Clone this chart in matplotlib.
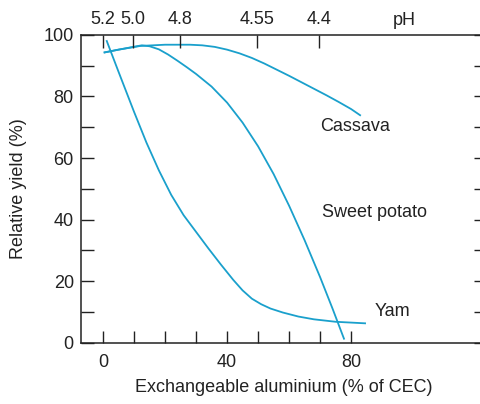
"""Relative yield of root crops vs exchangeable aluminium."""
import matplotlib
matplotlib.use("Agg")
import matplotlib.pyplot as plt
import matplotlib.transforms as mtransforms

plt.rcParams["font.family"] = ["Liberation Sans", "DejaVu Sans"]

# Curves
cassava_x = [0.5, 5, 12, 20, 28, 32, 36, 40, 44, 48, 52, 56, 60, 64, 68, 72, 76, 80, 82.9]
cassava_y = [94.3, 95.2, 96.4, 96.8, 96.8, 96.6, 96.1, 95.2, 94.0, 92.5, 90.7, 88.7, 86.7,
             84.6, 82.5, 80.4, 78.2, 75.9, 73.9]

sweet_x = [0.5, 5, 12.5, 15, 18, 21, 24, 27, 30, 35, 40, 45, 50, 55, 60, 65, 70, 74, 77.7]
sweet_y = [94.3, 95.2, 96.6, 96.3, 95.3, 93.6, 91.6, 89.5, 87.3, 83.2, 78.0, 71.5, 63.8,
           54.8, 44.5, 33.3, 21.3, 11.1, 1.3]

yam_x = [1.2, 5, 10, 14, 18, 22, 26, 30, 34, 38, 42, 45, 48, 51, 54, 58, 63, 68, 75, 84.5]
yam_y = [98.0, 88.0, 75.0, 65.0, 56.0, 48.0, 41.4, 36.0, 30.6, 25.4, 20.4, 17.0, 14.3,
         12.5, 11.1, 9.8, 8.5, 7.6, 6.8, 6.3]

ph_pos = [0, 9.7, 24.8, 49.7, 69.7]
ph_labels = ["5.2", "5.0", "4.8", "4.55", "4.4"]

labels = [("Cassava", 81.3, 70.1), ("Sweet potato", 87.7, 42.2), ("Yam", 93.4, 10.0)]

blue = "#1aa0cc"
ink = "#222222"
fs = 13

fig = plt.figure(figsize=(4.81, 4.04), dpi=100)
ax = fig.add_axes([0.1678, 0.1517, 0.8426, 0.762])

ax.plot(cassava_x, cassava_y, color=blue, linewidth=1.3)
ax.plot(sweet_x, sweet_y, color=blue, linewidth=1.3)
ax.plot(yam_x, yam_y, color=blue, linewidth=1.3)

for txt, tx, ty in labels:
    ax.text(tx, ty, txt, ha="center", va="center", fontsize=fs, color=ink)

ax.set_xlim(-7.2, 123.5)
ax.set_ylim(0, 100)

ax.set_xticks([0, 40, 80])
ax.set_xticks(range(0, 81, 10), minor=True)
ax.set_yticks(range(0, 101, 20))
ax.set_yticks(range(10, 100, 20), minor=True)

ax.tick_params(axis="both", which="both", direction="in", length=9, width=1,
               labelsize=fs, colors=ink)
ax.tick_params(axis="y", which="both", right=True, labelright=False)
ax.tick_params(axis="x", which="major", pad=8)
ax.tick_params(axis="y", which="major", pad=5)

for sp in ax.spines.values():
    sp.set_linewidth(1.1)
    sp.set_color(ink)

ax.set_xlabel("Exchangeable aluminium (% of CEC)", fontsize=fs, color=ink, labelpad=6)
ax.set_ylabel("Relative yield (%)", fontsize=fs, color=ink, labelpad=12)

# pH scale on top
ax2 = ax.twiny()
ax2.set_xlim(ax.get_xlim())
ax2.set_xticks(ph_pos)
ax2.set_xticklabels(ph_labels)
ax2.tick_params(axis="x", direction="in", length=9, width=1, labelsize=fs,
                colors=ink, pad=5)
for sp in ax2.spines.values():
    sp.set_visible(False)

trans = mtransforms.blended_transform_factory(ax.transData, ax.transAxes)
ax.text(97, 1.0 + 6 / 308, "pH", transform=trans, ha="center", va="bottom",
        fontsize=fs, color=ink)

fig.savefig("out.png", dpi=100)
plt.close("all")
